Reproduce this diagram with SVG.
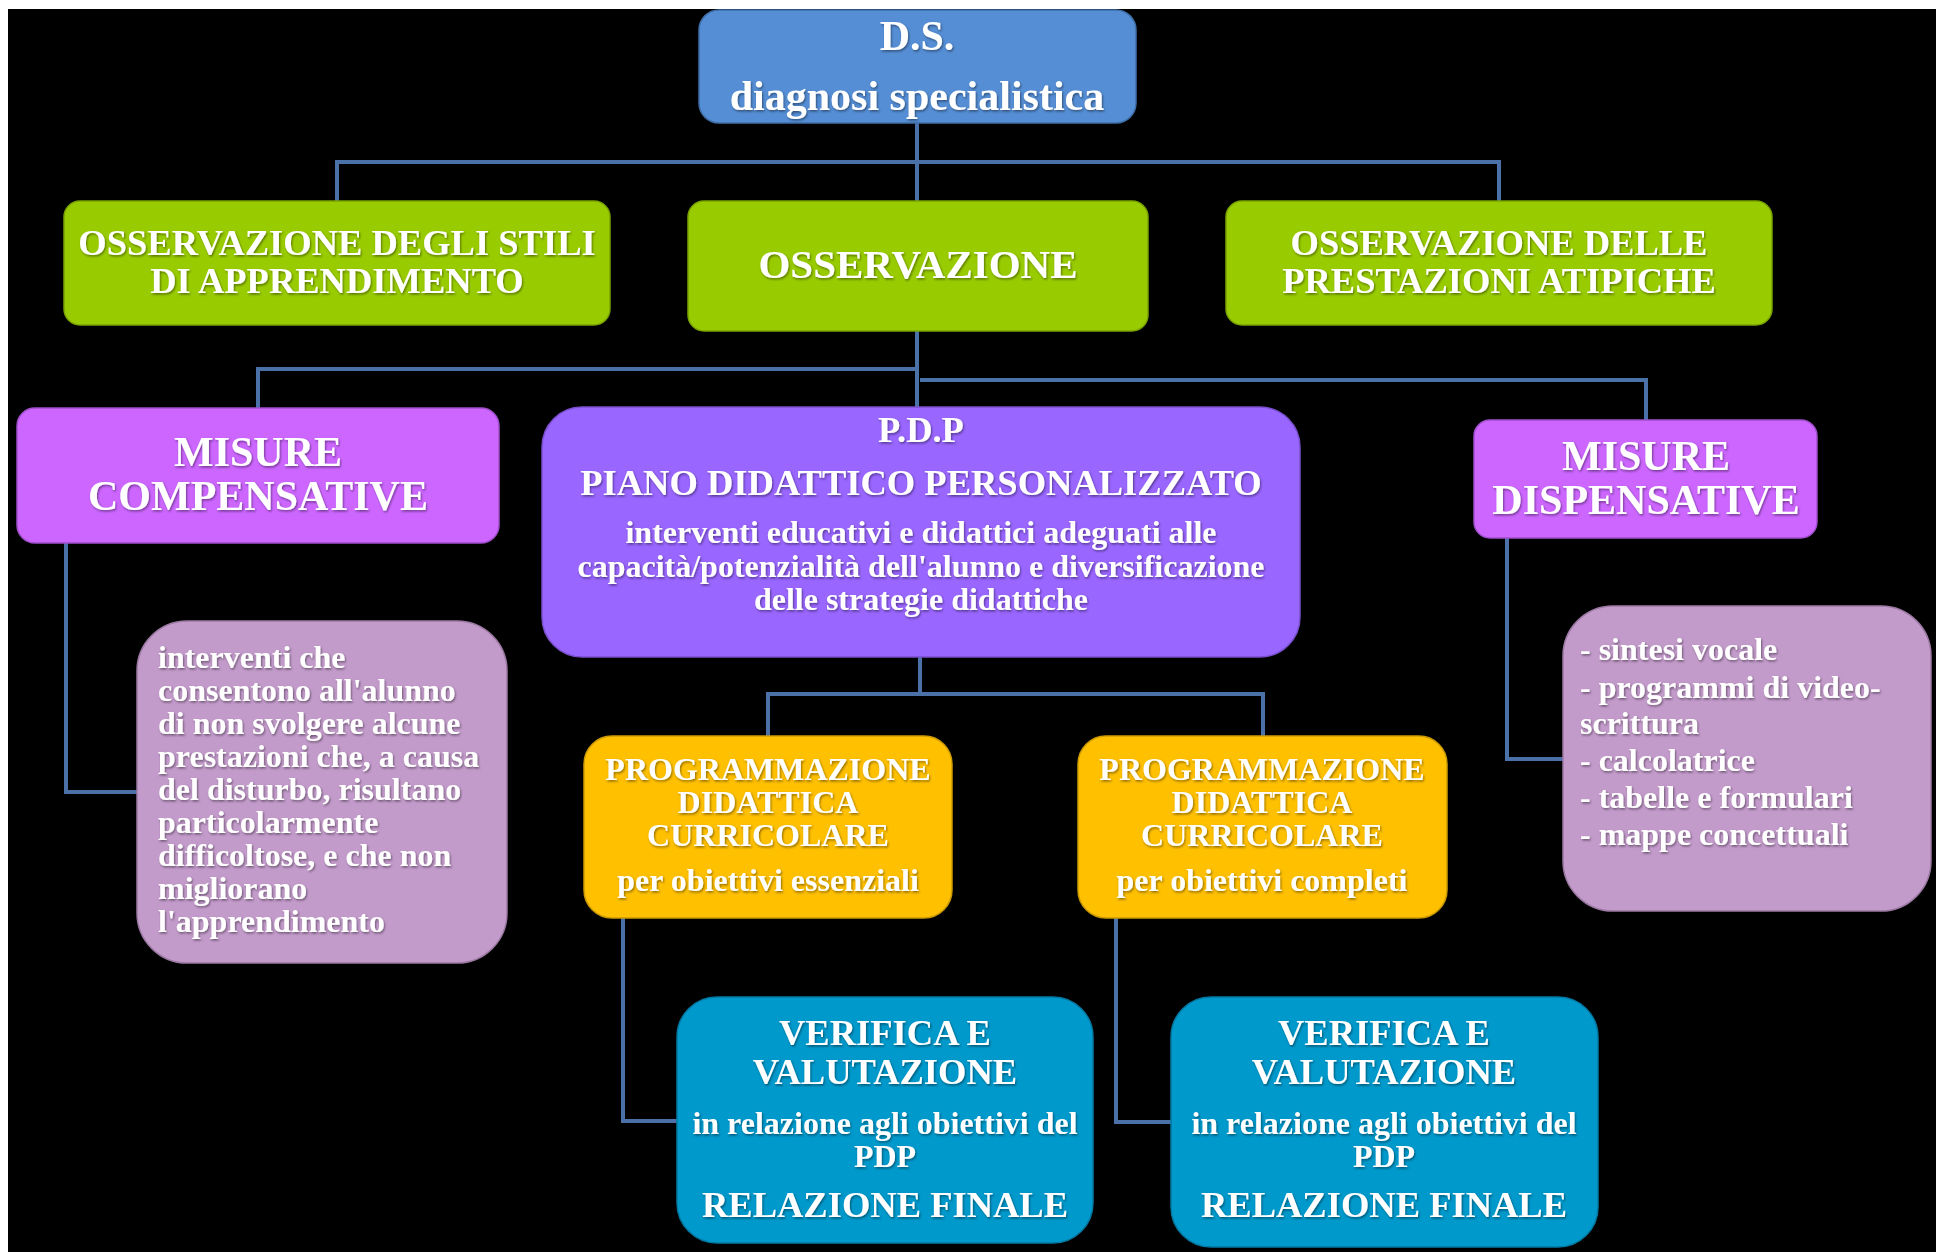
<svg xmlns="http://www.w3.org/2000/svg" width="1936" height="1252" viewBox="0 0 1936 1252">
<defs>
<filter id="ts" x="-5%" y="-20%" width="110%" height="140%">
<feDropShadow dx="1" dy="1.5" stdDeviation="1" flood-color="#000" flood-opacity="0.45"/>
</filter>
</defs>
<style>
.t{font-family:"Liberation Serif","Times New Roman",serif;font-weight:bold;fill:#fff;filter:url(#ts)}
.c{text-anchor:middle}
.s42{font-size:42px}
.s41{font-size:41px}
.s36{font-size:36.5px}
.s32{font-size:32px}
.ds{fill:#558ED5;stroke:#3f6fa8;stroke-width:1.5}
.gr{fill:#99CC00;stroke:#7aa300;stroke-width:1.5}
.mg{fill:#CC66FF;stroke:#a04fcc;stroke-width:1.5}
.pu{fill:#9966FF;stroke:#7a4fcc;stroke-width:1.5}
.pk{fill:#C39BCB;stroke:#9c7aa3;stroke-width:1.5}
.or{fill:#FFC000;stroke:#cc9a00;stroke-width:1.5}
.bl{fill:#0099CC;stroke:#007aa3;stroke-width:1.5}
.cn{fill:none;stroke:#4A72A8;stroke-width:4}
</style>
<rect x="0" y="0" width="1936" height="1252" fill="#fff"/>
<rect x="8" y="9" width="1928" height="1243" fill="#000"/>
<g id="connectors">
<path class="cn" d="M917 123V201M337 201V162H1499V201"/>
<path class="cn" d="M917 331V407M258 408V369H917M920 380H1646V420"/>
<path class="cn" d="M66 543V792H137"/>
<path class="cn" d="M920 657V694M768 736V694H1263V736"/>
<path class="cn" d="M1507 538V759H1563"/>
<path class="cn" d="M623 918V1121H677"/>
<path class="cn" d="M1116 918V1122H1171"/>
</g>
<g id="ds">
<rect class="ds" x="699" y="10" width="437" height="113" rx="20"/>
<text class="t c s42" x="917" y="50">D.S.</text>
<text class="t c s42" x="917" y="110">diagnosi specialistica</text>
</g>
<g id="oss-stili">
<rect class="gr" x="64" y="201" width="546" height="124" rx="16"/>
<text class="t c s36" x="337" y="255">OSSERVAZIONE DEGLI STILI</text>
<text class="t c s36" x="337" y="293">DI APPRENDIMENTO</text>
</g>
<g id="osservazione">
<rect class="gr" x="688" y="201" width="460" height="130" rx="16"/>
<text class="t c s41" x="918" y="278">OSSERVAZIONE</text>
</g>
<g id="oss-prestazioni">
<rect class="gr" x="1226" y="201" width="546" height="124" rx="16"/>
<text class="t c s36" x="1499" y="255">OSSERVAZIONE DELLE</text>
<text class="t c s36" x="1499" y="293">PRESTAZIONI ATIPICHE</text>
</g>
<g id="misure-compensative">
<rect class="mg" x="17" y="408" width="482" height="135" rx="18"/>
<text class="t c s42" x="258" y="466">MISURE</text>
<text class="t c s42" x="258" y="510">COMPENSATIVE</text>
</g>
<g id="pdp">
<rect class="pu" x="542" y="407" width="758" height="250" rx="40"/>
<text class="t c s36" x="921" y="442">P.D.P</text>
<text class="t c s36" x="921" y="495">PIANO DIDATTICO PERSONALIZZATO</text>
<text class="t c s32" x="921" y="543">interventi educativi e didattici adeguati alle</text>
<text class="t c s32" x="921" y="577">capacità/potenzialità dell'alunno e diversificazione</text>
<text class="t c s32" x="921" y="610">delle strategie didattiche</text>
</g>
<g id="misure-dispensative">
<rect class="mg" x="1474" y="420" width="343" height="118" rx="16"/>
<text class="t c s42" x="1646" y="470">MISURE</text>
<text class="t c s42" x="1646" y="514">DISPENSATIVE</text>
</g>
<g id="compensative-desc">
<rect class="pk" x="137" y="621" width="370" height="342" rx="50"/>
<text class="t s32" x="158" y="668">interventi che</text>
<text class="t s32" x="158" y="701">consentono all'alunno</text>
<text class="t s32" x="158" y="734">di non svolgere alcune</text>
<text class="t s32" x="158" y="767">prestazioni che, a causa</text>
<text class="t s32" x="158" y="800">del disturbo, risultano</text>
<text class="t s32" x="158" y="833">particolarmente</text>
<text class="t s32" x="158" y="866">difficoltose, e che non</text>
<text class="t s32" x="158" y="899">migliorano</text>
<text class="t s32" x="158" y="932">l'apprendimento</text>
</g>
<g id="dispensative-desc">
<rect class="pk" x="1563" y="606" width="368" height="305" rx="50"/>
<text class="t s32" x="1580" y="660">- sintesi vocale</text>
<text class="t s32" x="1580" y="698">- programmi di video-</text>
<text class="t s32" x="1580" y="734">scrittura</text>
<text class="t s32" x="1580" y="771">- calcolatrice</text>
<text class="t s32" x="1580" y="808">- tabelle e formulari</text>
<text class="t s32" x="1580" y="845">- mappe concettuali</text>
</g>
<g id="prog-essenziali">
<rect class="or" x="584" y="736" width="368" height="182" rx="28"/>
<text class="t c s32" x="768" y="780">PROGRAMMAZIONE</text>
<text class="t c s32" x="768" y="813">DIDATTICA</text>
<text class="t c s32" x="768" y="846">CURRICOLARE</text>
<text class="t c s32" x="768" y="891">per obiettivi essenziali</text>
</g>
<g id="prog-completi">
<rect class="or" x="1078" y="736" width="369" height="182" rx="28"/>
<text class="t c s32" x="1262" y="780">PROGRAMMAZIONE</text>
<text class="t c s32" x="1262" y="813">DIDATTICA</text>
<text class="t c s32" x="1262" y="846">CURRICOLARE</text>
<text class="t c s32" x="1262" y="891">per obiettivi completi</text>
</g>
<g id="verifica-1">
<rect class="bl" x="677" y="997" width="416" height="246" rx="40"/>
<text class="t c s36" x="885" y="1045">VERIFICA E</text>
<text class="t c s36" x="885" y="1084">VALUTAZIONE</text>
<text class="t c s32" x="885" y="1134">in relazione agli obiettivi del</text>
<text class="t c s32" x="885" y="1167">PDP</text>
<text class="t c s36" x="885" y="1217">RELAZIONE FINALE</text>
</g>
<g id="verifica-2">
<rect class="bl" x="1171" y="997" width="427" height="250" rx="40"/>
<text class="t c s36" x="1384" y="1045">VERIFICA E</text>
<text class="t c s36" x="1384" y="1084">VALUTAZIONE</text>
<text class="t c s32" x="1384" y="1134">in relazione agli obiettivi del</text>
<text class="t c s32" x="1384" y="1167">PDP</text>
<text class="t c s36" x="1384" y="1217">RELAZIONE FINALE</text>
</g>
</svg>
